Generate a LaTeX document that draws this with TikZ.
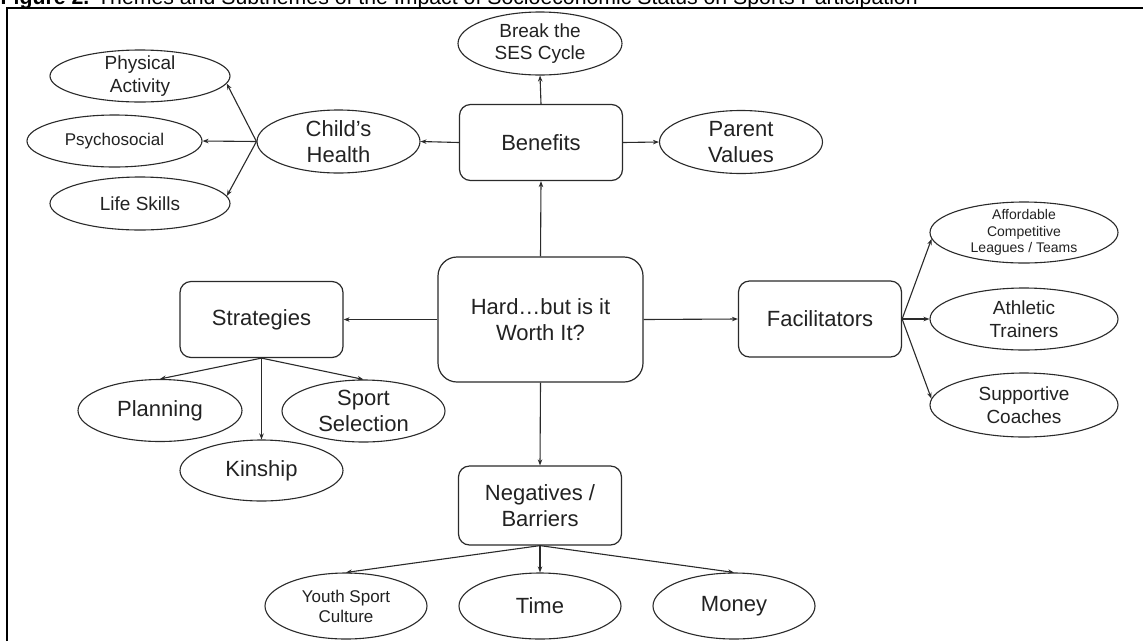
\documentclass[tikz,border=0pt]{standalone}
\usepackage{fontspec}
\usepackage{graphicx}
\setmainfont{Liberation Sans}
\usetikzlibrary{shapes.geometric,arrows.meta}
\definecolor{ink}{HTML}{222222}
\definecolor{edge}{HTML}{2a2a2a}
\begin{document}
\begin{tikzpicture}[x=1pt,y=-1pt,
  box/.style={draw=edge, line width=1.2pt, rounded corners=11pt, inner sep=0pt,
    minimum width=163pt, minimum height=76pt, align=center, text=ink,
    font=\fontsize{22}{26}\selectfont},
  bigbox/.style={box, rounded corners=19pt, minimum width=205pt, minimum height=125pt},
  oval/.style={draw=edge, line width=1.1pt, ellipse, inner sep=-30pt,
    minimum width=163pt, minimum height=63pt, align=center, text=ink,
    font=\fontsize{22}{25.5}\selectfont},
  mid/.style={font=\fontsize{19}{22.5}\selectfont},
  small/.style={font=\fontsize{17}{20}\selectfont},
  tiny/.style={font=\fontsize{14}{16.7}\selectfont},
  conn/.style={draw=edge, line width=1.1pt, -{Stealth[length=6pt,width=4.5pt]}}
]
\useasboundingbox (0,0) rectangle (1143,641);
\fill[white] (0,0) rectangle (1143,641);

% title and frame
\node[anchor=base west, inner sep=0pt, text=black] (title) at (0.5,4.5)
  {\resizebox{917pt}{!}{\textbf{Figure 2.} Themes and Subthemes of the Impact of Socioeconomic Status on Sports Participation}};
\draw[line width=1.4pt, black] (7,641) -- (7,7.8) -- (1143,7.8);

% main nodes
\node[bigbox] (c) at (540.5,319.5) {Hard\ldots but is it\\Worth It?};
\node[box] (be) at (541,142.5) {Benefits};
\node[box] (st) at (261.5,319.5) {Strategies};
\node[box] (fa) at (820,319) {Facilitators};
\node[box, minimum height=79pt] (ng) at (540,505.5) {Negatives /\\Barriers};

% benefits children
\node[oval, mid, minimum width=164pt, minimum height=63pt] (bk) at (540,43.5) {Break the\\SES Cycle};
\node[oval] (pv) at (741,142) {Parent\\Values};
\node[oval] (ch) at (338.5,141.5) {Child's\\Health};
\node[oval, mid, minimum width=180pt, minimum height=52pt] (pa) at (140,76) {Physical\\Activity};
\node[oval, small, minimum width=175pt, minimum height=52pt] (ps) at (114.5,141) {Psychosocial};
\node[oval, mid, minimum width=180pt, minimum height=53pt] (ls) at (140,203.5) {Life Skills};

% strategies children
\node[oval, minimum width=164pt, minimum height=62pt] (pl) at (160,410.5) {Planning};
\node[oval, minimum width=163pt, minimum height=62pt] (ss) at (363.5,411) {Sport\\Selection};
\node[oval, minimum width=163pt, minimum height=61pt] (ki) at (261.5,470.5) {Kinship};

% facilitators children
\node[oval, tiny, minimum width=188pt, minimum height=61pt] (af) at (1024,232.5) {Affordable\\Competitive\\Leagues / Teams};
\node[oval, mid, minimum width=188pt, minimum height=62pt] (at) at (1024,319) {Athletic\\Trainers};
\node[oval, mid, minimum width=188pt, minimum height=64pt] (sc) at (1024,405) {Supportive\\Coaches};

% negatives children
\node[oval, small, minimum width=162pt, minimum height=66pt] (ys) at (346,606) {Youth Sport\\Culture};
\node[oval, minimum width=162pt, minimum height=66pt] (ti) at (540,606) {Time};
\node[oval, minimum width=162pt, minimum height=66pt] (mo) at (734,606) {Money};

% connectors
\draw[conn] (c.north) -- (be.south);
\draw[conn] (c.west) -- (st.east);
\draw[conn] (c.east) -- (fa.west);
\draw[conn] (c.south) -- (ng.north);

\draw[conn] (be.north) -- (bk.south);
\draw[conn] (be.east) -- (pv.west);
\draw[conn] (be.west) -- (ch.east);
\draw[conn] (ch.west) -- (pa.-5);
\draw[conn] (ch.west) -- (ps.east);
\draw[conn] (ch.west) -- (ls.5);

\draw[conn] (st.south) -- (pl.north);
\draw[conn] (st.south) -- (ki.north);
\draw[conn] (st.south) -- (ss.north);

\draw[conn] (fa.east) -- (af.184);
\draw[conn] (fa.east) -- (at.west);
\draw[conn] (fa.east) -- (sc.176);

\draw[conn] (ng.south) -- (ys.north);
\draw[conn] (ng.south) -- (ti.north);
\draw[conn] (ng.south) -- (mo.north);
\end{tikzpicture}
\end{document}
